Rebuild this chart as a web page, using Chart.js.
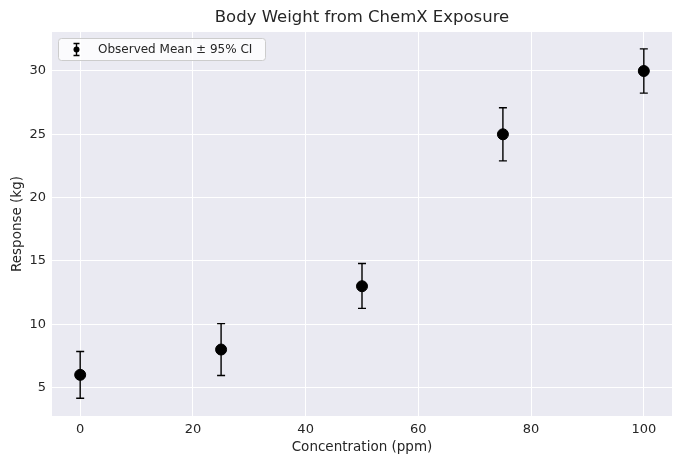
<!DOCTYPE html>
<html>
<head>
<meta charset="utf-8">
<script src="https://cdn.jsdelivr.net/npm/chart.js@4.4.1/dist/chart.umd.min.js"></script>
<style>
  html, body { margin: 0; padding: 0; background: #ffffff; }
  #wrap { width: 682px; height: 465px; }
</style>
</head>
<body>
<div id="wrap"><canvas id="chart" width="682" height="465"></canvas></div>
<script>
const concentrations = [0, 25, 50, 75, 100];
const meanResponse = [6.0, 8.0, 13.0, 25.0, 30.0];
const ciLower = [4.15, 5.95, 11.25, 22.9, 28.25];
const ciUpper = [7.85, 10.05, 14.8, 27.1, 31.75];
const xTicks = [0, 20, 40, 60, 80, 100];
const yTicks = [5, 10, 15, 20, 25, 30];

const FONT = "'DejaVu Sans', sans-serif";
const TEXT = "#262626";

// error bars + title + legend, drawn by hand
const errorBars = {
  id: "errorBars",
  beforeDatasetsDraw(chart) {
    const { ctx, scales: { x, y } } = chart;
    ctx.save();
    ctx.strokeStyle = "#000";
    ctx.lineWidth = 1.4;
    concentrations.forEach((c, i) => {
      const px = x.getPixelForValue(c);
      const lo = y.getPixelForValue(ciLower[i]);
      const hi = y.getPixelForValue(ciUpper[i]);
      ctx.beginPath();
      ctx.moveTo(px, lo); ctx.lineTo(px, hi);
      ctx.moveTo(px - 4, lo); ctx.lineTo(px + 4, lo);
      ctx.moveTo(px - 4, hi); ctx.lineTo(px + 4, hi);
      ctx.stroke();
    });
    ctx.restore();
  },
  afterDraw(chart) {
    const { ctx, chartArea } = chart;
    ctx.save();
    // title
    ctx.fillStyle = TEXT;
    ctx.font = "16.5px " + FONT;
    ctx.textAlign = "center";
    ctx.textBaseline = "middle";
    ctx.fillText("Body Weight from ChemX Exposure", (chartArea.left + chartArea.right) / 2, 18);

    // legend box
    const bx = 58.5, by = 38.5, bw = 207, bh = 22;
    ctx.beginPath();
    ctx.roundRect(bx, by, bw, bh, 3);
    ctx.fillStyle = "rgba(255,255,255,0.8)";
    ctx.fill();
    ctx.strokeStyle = "#cccccc";
    ctx.lineWidth = 1;
    ctx.stroke();
    // legend marker
    const mx = 76.5, my = 49.5;
    ctx.strokeStyle = "#000";
    ctx.lineWidth = 1.4;
    ctx.beginPath();
    ctx.moveTo(mx, my - 6); ctx.lineTo(mx, my + 6);
    ctx.moveTo(mx - 3, my - 6); ctx.lineTo(mx + 3, my - 6);
    ctx.moveTo(mx - 3, my + 6); ctx.lineTo(mx + 3, my + 6);
    ctx.stroke();
    ctx.beginPath();
    ctx.arc(mx, my, 3, 0, Math.PI * 2);
    ctx.fillStyle = "#000";
    ctx.fill();
    // legend text
    ctx.fillStyle = TEXT;
    ctx.font = "12px " + FONT;
    ctx.textAlign = "left";
    ctx.fillText("Observed Mean \u00b1 95% CI", 98, my + 0.5);
    ctx.restore();
  }
};

const plotBackground = {
  id: "plotBackground",
  beforeDraw(chart) {
    const { ctx, chartArea: a } = chart;
    ctx.save();
    ctx.fillStyle = "#EAEAF2";
    ctx.fillRect(a.left, a.top, a.right - a.left, a.bottom - a.top);
    ctx.restore();
  }
};

new Chart(document.getElementById("chart"), {
  type: "scatter",
  data: {
    datasets: [{
      label: "Observed Mean \u00b1 95% CI",
      data: concentrations.map((c, i) => ({ x: c, y: meanResponse[i] })),
      backgroundColor: "#000",
      borderColor: "#000",
      pointRadius: 5.5,
      pointHoverRadius: 5.5
    }]
  },
  options: {
    responsive: false,
    animation: false,
    events: [],
    layout: { padding: { top: 32, right: 10, left: 0, bottom: 0 } },
    plugins: { legend: { display: false }, title: { display: false }, tooltip: { enabled: false } },
    scales: {
      x: {
        type: "linear",
        min: -5, max: 105,
        afterBuildTicks(s) { s.ticks = xTicks.map(v => ({ value: v })); },
        afterFit(s) { s.height = 49; },
        grid: { color: "#ffffff", lineWidth: 1, drawTicks: false },
        border: { display: false },
        ticks: { color: TEXT, font: { family: FONT, size: 13 }, padding: 6 },
        title: { display: true, text: "Concentration (ppm)", color: TEXT, font: { family: FONT, size: 13.5 }, padding: { top: 9, bottom: 9 } }
      },
      y: {
        type: "linear",
        min: 2.75, max: 33.08,
        afterBuildTicks(s) { s.ticks = yTicks.map(v => ({ value: v })); },
        afterFit(s) { s.width = 52; },
        grid: { color: "#ffffff", lineWidth: 1, drawTicks: false },
        border: { display: false },
        ticks: { color: TEXT, font: { family: FONT, size: 13 }, padding: 6 },
        title: { display: true, text: "Response (kg)", color: TEXT, font: { family: FONT, size: 13.5 }, padding: { top: 9, bottom: 9 } }
      }
    }
  },
  plugins: [plotBackground, errorBars]
});
</script>
</body>
</html>
